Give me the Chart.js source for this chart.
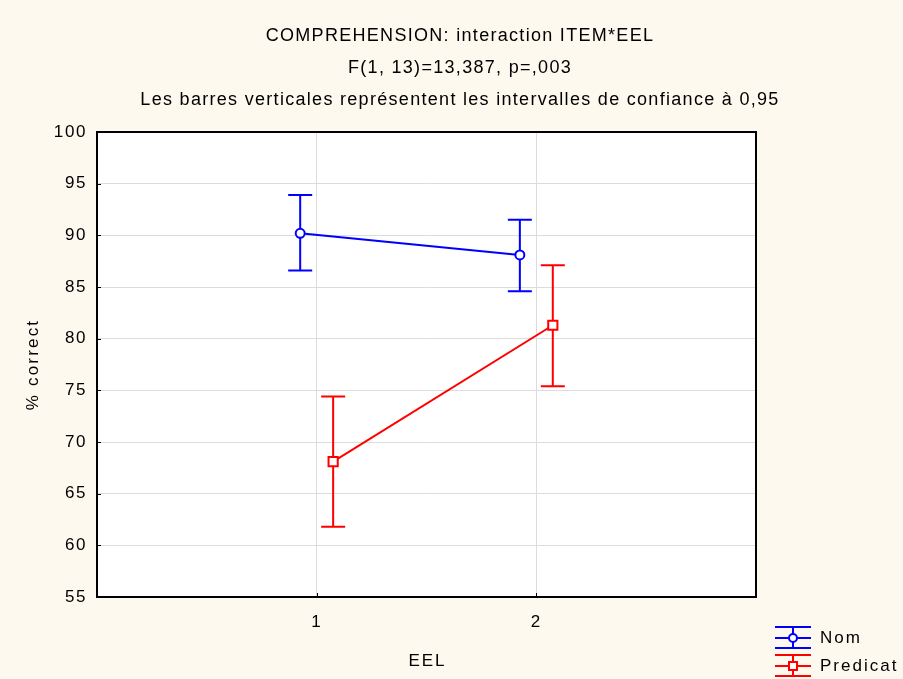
<!DOCTYPE html>
<html>
<head>
<meta charset="utf-8">
<script src="https://cdn.jsdelivr.net/npm/chart.js@4"></script>
<style>
  html, body { margin: 0; padding: 0; background: #fdf9ee; }
  #wrap { width: 903px; height: 679px; position: relative; }
</style>
</head>
<body>
<div id="wrap"><canvas id="chart"></canvas></div>
<script>
// données
const titleLines = [
  'COMPREHENSION: interaction ITEM*EEL',
  'F(1, 13)=13,387, p=,003',
  'Les barres verticales représentent les intervalles de confiance à 0,95'
];
const eelLevels = [1, 2];
const nomX = [0.925, 1.925];
const nomMean = [90.2, 88.1];
const nomLow = [86.6, 84.6];
const nomHigh = [93.9, 91.5];
const predX = [1.075, 2.075];
const predMean = [68.1, 81.3];
const predLow = [61.8, 75.4];
const predHigh = [74.4, 87.1];
const yTicks = [55, 60, 65, 70, 75, 80, 85, 90, 95, 100];

const FONT = '"Liberation Sans", Arial, sans-serif';

const toPoints = (xs, ys) => xs.map((x, i) => ({ x: x, y: ys[i] }));

/**
 * fond + espacement des lettres (texte large façon STATISTICA)
 */
const bgPlugin = {
  id: 'bg',
  beforeDraw(chart) {
    const { ctx, chartArea } = chart;
    ctx.save();
    ctx.fillStyle = '#fdf9ee';
    ctx.fillRect(0, 0, chart.width, chart.height);
    ctx.fillStyle = '#ffffff';
    ctx.fillRect(chartArea.left, chartArea.top, chartArea.right - chartArea.left, chartArea.bottom - chartArea.top);
    ctx.restore();
    ctx.letterSpacing = '1.6px';
  },
  afterDatasetsDraw(chart) {
    chart.ctx.letterSpacing = '0px';
  }
};

/**
 * barres d'erreur (IC 95%)
 */
const errorBarPlugin = {
  id: 'errorBars',
  beforeDatasetsDraw(chart) {
    const { ctx } = chart;
    const sx = chart.scales.x;
    const sy = chart.scales.y;
    const cap = 12;
    chart.data.datasets.forEach(ds => {
      ctx.save();
      ctx.strokeStyle = ds.borderColor;
      ctx.lineWidth = 2;
      ds.data.forEach((p, i) => {
        const x = sx.getPixelForValue(p.x);
        const yl = sy.getPixelForValue(ds.low[i]);
        const yh = sy.getPixelForValue(ds.high[i]);
        ctx.beginPath();
        ctx.moveTo(x, yl); ctx.lineTo(x, yh);
        ctx.moveTo(x - cap, yl); ctx.lineTo(x + cap, yl);
        ctx.moveTo(x - cap, yh); ctx.lineTo(x + cap, yh);
        ctx.stroke();
      });
      ctx.restore();
    });
  }
};

/**
 * titres, titres d'axes, cadre, petites graduations, légende
 */
const decorPlugin = {
  id: 'decor',
  afterDraw(chart) {
    const { ctx, chartArea } = chart;
    const sx = chart.scales.x;
    const sy = chart.scales.y;

    ctx.save();
    // titres
    ctx.fillStyle = '#000';
    ctx.font = '18px ' + FONT;
    ctx.letterSpacing = '1.3px';
    ctx.textAlign = 'center';
    ctx.textBaseline = 'middle';
    const ty = [36, 68, 100];
    titleLines.forEach((t, i) => ctx.fillText(t, 460, ty[i]));

    // titres des axes
    ctx.font = '17px ' + FONT;
    ctx.letterSpacing = '2px';
    ctx.fillText('EEL', (chartArea.left + chartArea.right) / 2 + 1, 661);
    ctx.save();
    ctx.translate(33, (chartArea.top + chartArea.bottom) / 2);
    ctx.rotate(-Math.PI / 2);
    ctx.letterSpacing = '2.2px';
    ctx.fillText('% correct', 0, 0);
    ctx.restore();
    ctx.letterSpacing = '0px';

    // cadre
    ctx.strokeStyle = '#000';
    ctx.lineWidth = 2;
    ctx.strokeRect(chartArea.left, chartArea.top, chartArea.right - chartArea.left, chartArea.bottom - chartArea.top);

    // graduations intérieures
    ctx.lineWidth = 1;
    yTicks.forEach(v => {
      const y = Math.round(sy.getPixelForValue(v)) + 0.5;
      ctx.beginPath();
      ctx.moveTo(chartArea.left, y); ctx.lineTo(chartArea.left + 4, y);
      ctx.stroke();
    });
    eelLevels.forEach(v => {
      const x = Math.round(sx.getPixelForValue(v)) + 0.5;
      ctx.beginPath();
      ctx.moveTo(x, chartArea.bottom); ctx.lineTo(x, chartArea.bottom - 4);
      ctx.stroke();
    });

    // légende
    const items = [
      { label: 'Nom', color: '#0000ff', style: 'circle', y: 638, top: 627, bottom: 648 },
      { label: 'Predicat', color: '#ff0000', style: 'rect', y: 666, top: 655, bottom: 676 }
    ];
    items.forEach(it => {
      ctx.strokeStyle = it.color;
      ctx.lineWidth = 2;
      ctx.beginPath();
      ctx.moveTo(775, it.top); ctx.lineTo(811, it.top);
      ctx.moveTo(775, it.y); ctx.lineTo(811, it.y);
      ctx.moveTo(775, it.bottom); ctx.lineTo(811, it.bottom);
      ctx.moveTo(793, it.top); ctx.lineTo(793, it.bottom);
      ctx.stroke();
      ctx.fillStyle = '#fff';
      ctx.beginPath();
      if (it.style === 'circle') {
        ctx.arc(793, it.y, 4, 0, Math.PI * 2);
      } else {
        ctx.rect(789, it.y - 4, 8, 8);
      }
      ctx.fill();
      ctx.stroke();
      ctx.fillStyle = '#000';
      ctx.font = '17px ' + FONT;
      ctx.letterSpacing = '2px';
      ctx.textAlign = 'left';
      ctx.fillText(it.label, 820, it.y);
    });
    ctx.restore();
  }
};

document.addEventListener('DOMContentLoaded', function() {
  const ctx = document.getElementById('chart').getContext('2d');
  new Chart(ctx, {
    type: 'line',
    data: {
      datasets: [
        {
          label: 'Nom',
          data: toPoints(nomX, nomMean),
          low: nomLow,
          high: nomHigh,
          borderColor: '#0000ff',
          backgroundColor: '#ffffff',
          borderWidth: 2,
          pointStyle: 'circle',
          pointRadius: 4.5,
          pointBorderWidth: 2,
          tension: 0
        },
        {
          label: 'Predicat',
          data: toPoints(predX, predMean),
          low: predLow,
          high: predHigh,
          borderColor: '#ff0000',
          backgroundColor: '#ffffff',
          borderWidth: 2,
          pointStyle: 'rect',
          pointRadius: 6.5,
          pointBorderWidth: 2,
          tension: 0
        }
      ]
    },
    options: {
      responsive: true,
      maintainAspectRatio: false,
      animation: false,
      layout: { padding: { top: 132, right: 147, left: 0, bottom: 0 } },
      plugins: {
        legend: { display: false },
        tooltip: { enabled: false }
      },
      scales: {
        x: {
          type: 'linear',
          min: 0,
          max: 3,
          afterBuildTicks: scale => { scale.ticks = eelLevels.map(v => ({ value: v })); },
          afterFit: scale => { scale.height = 82; },
          grid: { color: '#dcdcdc', lineWidth: 1, drawTicks: false },
          border: { display: false },
          ticks: { color: '#000', padding: 15, font: { family: FONT, size: 17 } },
          title: { display: false }
        },
        y: {
          min: 55,
          max: 100,
          afterBuildTicks: scale => { scale.ticks = yTicks.map(v => ({ value: v })); },
          afterFit: scale => { scale.width = 97; },
          grid: { color: '#dcdcdc', lineWidth: 1, drawTicks: false },
          border: { display: false },
          ticks: { color: '#000', padding: 10, font: { family: FONT, size: 17 } },
          title: { display: false }
        }
      }
    },
    plugins: [bgPlugin, errorBarPlugin, decorPlugin]
  });
});
</script>
</body>
</html>
